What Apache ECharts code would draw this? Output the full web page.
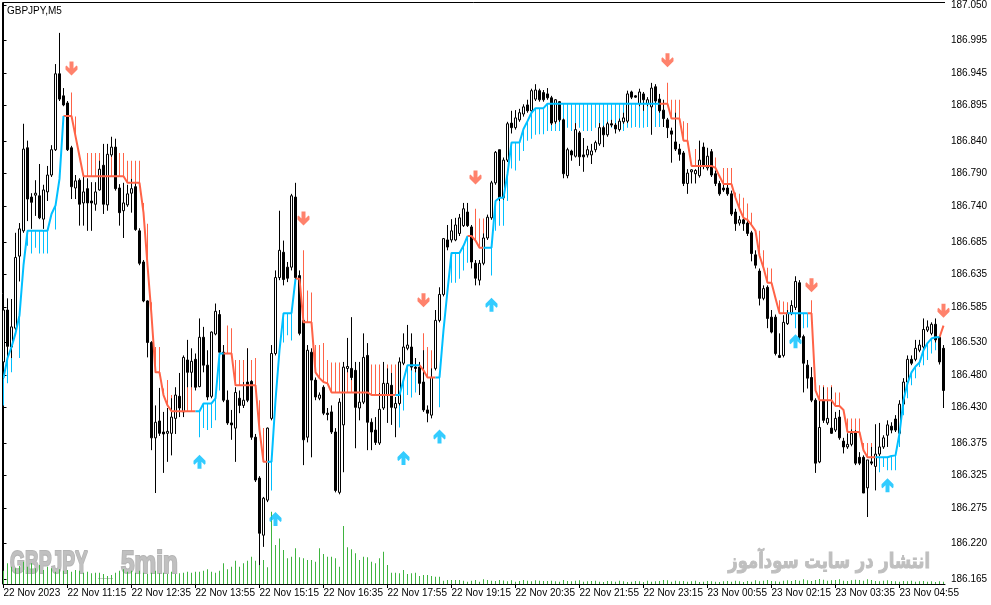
<!DOCTYPE html>
<html>
<head>
<meta charset="utf-8">
<script src="https://cdn.jsdelivr.net/npm/echarts@6/dist/echarts.min.js"></script>
<style>
html,body{margin:0;padding:0;background:#fff;}
#chart{width:991px;height:605px;}
</style>
</head>
<body>
<div id="chart"></div>
<script>
// ---- DATA ----
const tickBars = [0,16,32,48,64,80,96,112,128,144,160,176,192,208,224];
const tickLabels = ['22 Nov 2023','22 Nov 11:15','22 Nov 12:35','22 Nov 13:55','22 Nov 15:15','22 Nov 16:35','22 Nov 17:55','22 Nov 19:15','22 Nov 20:35','22 Nov 21:55','22 Nov 23:15','23 Nov 00:55','23 Nov 02:15','23 Nov 03:35','23 Nov 04:55'];
const priceTicks = [187.050,186.995,186.945,186.895,186.840,186.790,186.740,186.685,186.635,186.585,186.530,186.480,186.430,186.375,186.325,186.275,186.220,186.165];

// candles: [open, close, low, high]
const candles = [
[186.500,186.580,186.495,186.614],[186.580,186.524,186.506,186.598],[186.523,186.554,186.506,186.597],[186.552,186.661,186.549,186.699],[186.663,186.705,186.624,186.714],
[186.702,186.828,186.699,186.867],[186.830,186.751,186.717,186.841],[186.754,186.746,186.705,186.760],[186.757,186.760,186.725,186.780],[186.756,186.722,186.720,186.805],
[186.720,186.765,186.705,186.773],[186.762,186.788,186.748,186.802],[186.788,186.827,186.785,186.834],[186.827,186.944,186.825,186.959],[186.944,186.905,186.902,187.007],
[186.910,186.896,186.894,186.922],[186.899,186.827,186.825,186.902],[186.830,186.770,186.751,186.833],[186.768,186.779,186.751,186.788],[186.780,186.743,186.710,186.783],
[186.745,186.762,186.710,186.786],[186.767,186.745,186.702,186.783],[186.748,186.745,186.702,186.777],[186.743,186.762,186.733,186.777],[186.765,186.797,186.764,186.810],
[186.803,186.743,186.728,186.836],[186.742,186.820,186.733,186.836],[186.819,186.831,186.816,186.847],[186.831,186.767,186.764,186.844],[186.768,186.730,186.710,186.774],
[186.733,186.745,186.691,186.776],[186.742,186.759,186.739,186.773],[186.760,186.767,186.730,186.782],[186.770,186.704,186.702,186.776],[186.702,186.652,186.649,186.706],
[186.654,186.594,186.592,186.657],[186.594,186.530,186.507,186.595],[186.530,186.383,186.364,186.532],[186.383,186.407,186.298,186.433],[186.409,186.390,186.386,186.460],
[186.392,186.389,186.329,186.423],[186.390,186.393,186.346,186.429],[186.390,186.415,186.356,186.444],[186.413,186.449,186.389,186.461],[186.447,186.429,186.415,186.483],
[186.423,186.507,186.415,186.510],[186.503,186.484,186.461,186.534],[186.484,186.501,186.461,186.521],[186.504,186.461,186.456,186.513],[186.462,186.538,186.461,186.567],
[186.538,186.495,186.484,186.554],[186.495,186.446,186.441,186.518],[186.447,186.546,186.444,186.547],[186.543,186.578,186.541,186.590],[186.573,186.515,186.513,186.580],
[186.515,186.441,186.438,186.526],[186.441,186.406,186.403,186.456],[186.406,186.403,186.380,186.426],[186.398,186.453,186.346,186.461],[186.444,186.433,186.421,186.456],
[186.433,186.441,186.429,186.469],[186.469,186.441,186.438,186.521],[186.470,186.384,186.380,186.472],[186.384,186.318,186.315,186.389],[186.321,186.236,186.187,186.324],
[186.233,186.290,186.215,186.292],[186.287,186.398,186.284,186.399],[186.413,186.513,186.410,186.526],[186.513,186.630,186.510,186.641],[186.630,186.672,186.626,186.733],
[186.669,186.627,186.618,186.687],[186.646,186.629,186.623,186.654],[186.646,186.756,186.641,186.759],[186.754,186.630,186.626,186.776],[186.633,186.544,186.541,186.641],
[186.564,186.380,186.341,186.567],[186.384,186.518,186.376,186.526],[186.515,186.472,186.353,186.521],[186.472,186.446,186.441,186.476],[186.444,186.449,186.441,186.453],
[186.461,186.421,186.418,186.464],[186.421,186.419,186.410,186.429],[186.423,186.392,186.389,186.433],[186.392,186.302,186.299,186.398],[186.299,186.438,186.296,186.444],
[186.403,186.492,186.330,186.500],[186.490,186.493,186.484,186.537],[186.490,186.476,186.472,186.569],[186.487,186.430,186.367,186.500],[186.429,186.438,186.410,186.500],
[186.438,186.507,186.435,186.544],[186.510,186.407,186.364,186.529],[186.407,186.392,186.364,186.413],[186.395,186.376,186.372,186.415],[186.375,186.427,186.372,186.452],
[186.429,186.467,186.426,186.500],[186.449,186.467,186.406,186.490],[186.464,186.430,186.403,186.483],[186.429,186.436,186.384,186.446],[186.436,186.500,186.433,186.507],
[186.498,186.523,186.495,186.544],[186.521,186.526,186.518,186.557],[186.523,186.492,186.487,186.544],[186.492,186.490,186.484,186.506],[186.492,186.467,186.449,186.500],
[186.469,186.426,186.423,186.518],[186.426,186.421,186.407,186.433],[186.418,186.476,186.413,186.490],[186.490,186.564,186.487,186.580],[186.564,186.604,186.561,186.615],
[186.604,186.690,186.601,186.691],[186.688,186.677,186.672,186.711],[186.688,186.702,186.684,186.720],[186.688,186.711,186.686,186.722],[186.698,186.722,186.694,186.728],
[186.710,186.736,186.708,186.745],[186.731,186.710,186.708,186.745],[186.708,186.654,186.644,186.711],[186.652,186.629,186.618,186.657],[186.626,186.652,186.618,186.657],
[186.652,186.691,186.649,186.698],[186.691,186.723,186.688,186.727],[186.722,186.776,186.719,186.779],[186.776,186.823,186.773,186.825],[186.827,186.753,186.748,186.827],
[186.753,186.811,186.750,186.815],[186.811,186.867,186.808,186.870],[186.868,186.861,186.852,186.887],[186.861,186.876,186.858,186.888],[186.873,186.884,186.870,186.890],
[186.882,186.893,186.878,186.897],[186.896,186.887,186.884,186.904],[186.887,186.918,186.884,186.921],[186.905,186.919,186.902,186.928],[186.918,186.904,186.901,186.921],
[186.915,186.904,186.901,186.919],[186.913,186.907,186.904,186.922],[186.907,186.868,186.865,186.910],[186.870,186.904,186.867,186.905],[186.901,186.873,186.870,186.902],
[186.873,186.790,186.783,186.875],[186.787,186.827,186.783,186.830],[186.825,186.819,186.810,186.827],[186.817,186.858,186.815,186.868],[186.853,186.816,186.802,186.856],
[186.819,186.816,186.793,186.845],[186.819,186.827,186.815,186.833],[186.819,186.825,186.805,186.836],[186.827,186.838,186.823,186.841],[186.836,186.861,186.833,186.868],
[186.861,186.850,186.831,186.864],[186.850,186.867,186.847,186.870],[186.867,186.865,186.862,186.873],[186.865,186.859,186.852,186.868],[186.858,186.871,186.855,186.875],
[186.870,186.876,186.867,186.884],[186.871,186.913,186.868,186.918],[186.916,186.908,186.905,186.918],[186.910,186.908,186.907,186.911],[186.898,186.916,186.894,186.921],
[186.913,186.904,186.887,186.916],[186.898,186.904,186.894,186.908],[186.893,186.922,186.850,186.930],[186.924,186.902,186.899,186.928],[186.905,186.887,186.884,186.913],
[186.888,186.875,186.862,186.904],[186.873,186.861,186.845,186.876],[186.856,186.851,186.807,186.861],[186.839,186.828,186.825,186.884],[186.828,186.820,186.810,186.836],
[186.822,186.775,186.771,186.825],[186.775,186.791,186.759,186.797],[186.793,186.796,186.775,186.797],[186.790,186.795,186.775,186.797],[186.787,186.811,186.784,186.841],
[186.831,186.802,186.797,186.838],[186.799,186.817,186.795,186.830],[186.824,186.788,186.785,186.828],[186.790,186.775,186.771,186.795],[186.775,186.759,186.756,186.779],
[186.768,186.765,186.762,186.774],[186.768,186.759,186.756,186.773],[186.759,186.728,186.725,186.764],[186.731,186.713,186.702,186.736],[186.714,186.719,186.710,186.725],
[186.719,186.713,186.702,186.722],[186.714,186.698,186.694,186.717],[186.699,186.667,186.655,186.702],[186.665,186.649,186.644,186.672],[186.640,186.598,186.587,186.644],
[186.598,186.613,186.595,186.618],[186.615,186.567,186.552,186.618],[186.569,186.546,186.544,186.580],[186.569,186.513,186.510,186.573],[186.510,186.507,186.506,186.544],
[186.510,186.561,186.507,186.572],[186.559,186.575,186.557,186.580],[186.575,186.587,186.572,186.595],[186.584,186.624,186.580,186.632],[186.622,186.538,186.534,186.626],
[186.539,186.498,186.453,186.542],[186.495,186.475,186.459,186.503],[186.476,186.441,186.438,186.492],[186.441,186.344,186.329,186.444],[186.346,186.399,186.344,186.441],
[186.441,186.410,186.406,186.461],[186.406,186.413,186.403,186.441],[186.398,186.390,186.389,186.461],[186.395,186.413,186.392,186.423],[186.415,186.383,186.380,186.426],
[186.378,186.369,186.359,186.383],[186.369,186.373,186.366,186.390],[186.373,186.390,186.370,186.396],[186.392,186.344,186.341,186.395],[186.353,186.344,186.341,186.361],
[186.353,186.298,186.298,186.356],[186.306,186.349,186.261,186.349],[186.346,186.344,186.341,186.369],[186.339,186.358,186.302,186.404],[186.358,186.369,186.355,186.406],
[186.369,186.383,186.366,186.387],[186.387,186.403,186.369,186.410],[186.401,186.395,186.390,186.407],[186.412,186.395,186.392,186.418],[186.390,186.435,186.387,186.441],
[186.435,186.469,186.432,186.475],[186.469,186.504,186.466,186.510],[186.504,186.498,186.495,186.510],[186.504,186.521,186.501,186.534],[186.518,186.526,186.515,186.534],
[186.523,186.550,186.519,186.567],[186.549,186.554,186.546,186.564],[186.544,186.558,186.541,186.561],[186.558,186.534,186.530,186.567],[186.538,186.500,186.496,186.538],
[186.521,186.456,186.429,186.526]
];

// tick volumes
const volumes = [
133,207,173,157,180,223,173,207,157,190, 140,173,157,123,147,133,140,123,140,133,
113,123,107,113,113,100,80,90,113,133, 147,123,133,113,133,113,100,113,133,107,
113,100,123,100,107,113,123,113,123,123, 133,147,123,113,133,207,147,173,233,173,
207,233,273,233,190,240,167,723,390,457, 340,257,273,357,267,257,240,240,223,357,
300,273,273,257,173,580,367,347,307,240, 273,267,223,207,257,323,190,113,113,107,
140,100,107,113,80,90,90,80,73,73,
33,40,40,40,40,33,23,33,40,23, 47,40,33,30,40,35,27,37,23,30, 40,33,27,37,33,30,
30,33,27,23,40,30,27,33,37,23, 27,30,33,23,20,30,27,23,33,27, 20,23,30,27,20,33,23,27,
30,40,37,23,33,27,30,23,27,33, 20,23,30,27,23,20,27,30,23,33, 27,20,30,23,37,27,33,40,30,27, 23,33,37,30,40,33,
47,37,30,40,50,43,33,37,40,47, 33,30,37,43,40,33,47,40,30,27, 33,37,30,27,23,30,27,33,23,27, 30,23,27,20,27,23
];

// trailing-stop line value per bar
const trail = [
186.475,186.506,186.523,186.544,186.572,186.649,186.702,186.702,186.702,186.702,
186.702,186.702,186.728,186.741,186.782,186.879,186.879,186.879,186.848,186.817,
186.786,186.786,186.786,186.786,186.786,186.786,186.786,186.786,186.786,186.786,
186.786,186.776,186.776,186.776,186.776,186.730,186.649,186.572,186.484,186.484,
186.449,186.433,186.424,186.424,186.424,186.424,186.424,186.424,186.424,186.424,
186.436,186.436,186.436,186.444,186.513,186.513,186.513,186.513,186.464,186.464,
186.464,186.464,186.464,186.464,186.395,186.346,186.346,186.346,186.441,186.518,
186.575,186.575,186.575,186.628,186.628,186.561,186.561,186.561,186.484,186.475,
186.469,186.467,186.453,186.453,186.453,186.453,186.453,186.453,186.453,186.453,
186.453,186.453,186.449,186.449,186.449,186.449,186.449,186.449,186.449,186.449,
186.472,186.495,186.495,186.495,186.495,186.487,186.476,186.476,186.476,186.476,
186.549,186.610,186.668,186.668,186.668,186.679,186.694,186.694,186.687,186.676,
186.676,186.676,186.676,186.748,186.753,186.753,186.790,186.838,186.838,186.838,
186.859,186.871,186.884,186.891,186.891,186.891,186.898,186.898,186.898,186.898,
186.898,186.898,186.898,186.898,186.898,186.898,186.898,186.898,186.898,186.898,
186.898,186.898,186.898,186.898,186.898,186.898,186.898,186.898,186.898,186.898,
186.898,186.898,186.898,186.898,186.898,186.898,186.898,186.875,186.875,186.875,
186.841,186.841,186.802,186.802,186.802,186.802,186.802,186.802,186.799,186.786,
186.774,186.774,186.774,186.753,186.736,186.722,186.719,186.711,186.702,186.664,
186.645,186.622,186.622,186.598,186.575,186.575,186.575,186.575,186.575,186.575,
186.575,186.575,186.575,186.456,186.441,186.441,186.441,186.441,186.432,186.432,
186.426,186.392,186.392,186.392,186.392,186.364,186.353,186.353,186.353,186.353,
186.353,186.353,186.355,186.356,186.390,186.441,186.467,186.484,186.493,186.499,
186.518,186.529,186.536,186.538,186.538,186.556
];

// trend runs: u = up (blue), d = down (red)
const trendRuns = [['u',16],['d',33],['u',7],['d',11],['u',7],['d',25],['u',6],['d',4],['u',8],['d',4],['u',44],['d',32],['u',5],['d',17],['u',16],['d',1]];

// end price of the thin indicator stroke at each bar (null = none)
const tips = [
186.433,186.467,186.484,null,186.506,null,186.679,186.667,186.676,186.667,
186.667,186.667,null,186.704,null,null,null,186.915,186.878,null,
null,186.822,186.822,186.822,186.822,186.822,186.822,186.822,186.822,186.822,
186.822,186.810,186.810,186.810,186.810,186.745,186.713,186.592,186.523,186.523,
186.459,186.472,186.449,186.449,186.467,null,186.467,186.464,null,186.384,
186.398,186.395,186.398,186.410,186.456,186.475,186.556,186.552,186.503,186.503,
186.503,186.521,186.503,186.506,186.441,186.398,186.380,186.302,null,null,
186.530,186.541,186.533,null,null,186.672,186.610,186.607,186.526,186.526,
186.529,186.503,186.499,186.499,186.499,186.499,186.499,186.499,186.499,186.499,
186.499,186.499,186.496,186.496,186.496,186.496,186.496,186.496,186.496,186.399,
186.425,186.449,186.445,186.453,186.449,186.544,186.523,186.518,null,186.430,
null,null,186.622,186.622,186.628,186.641,186.653,null,186.736,186.721,
186.721,null,186.633,186.702,186.710,186.710,186.748,186.798,186.795,186.810,
186.825,186.841,186.844,186.850,186.851,186.851,186.856,186.856,186.856,186.856,
186.856,186.861,186.856,186.856,186.861,186.856,186.856,186.856,186.861,186.856,
186.856,186.856,186.861,186.856,186.856,186.856,186.861,186.861,186.862,186.861,
186.861,186.862,186.856,186.862,186.862,null,186.930,186.904,186.904,186.904,
186.871,186.868,null,186.828,186.828,186.828,186.828,186.828,186.815,null,
186.799,186.799,186.799,186.761,186.759,186.753,186.744,186.730,null,186.702,
186.672,186.645,186.644,null,186.595,186.593,186.592,null,186.552,186.552,
186.552,186.553,186.595,null,186.464,186.464,186.461,186.464,186.453,186.453,
null,186.413,186.413,186.413,186.413,186.375,186.375,186.375,186.375,186.330,
186.338,186.333,186.333,186.333,186.369,186.418,186.444,186.464,186.475,186.492,
186.495,186.503,186.513,186.518,null,null
];

const downArrowBars = [17,75,105,118,166,202,235];
const downArrowPrices = [186.952,186.721,186.595,186.784,186.965,186.618,186.579];
const upArrowBars = [49,68,100,109,122,198,221];
const upArrowPrices = [186.346,186.258,186.352,186.385,186.588,186.532,186.310];

// ---- BUILD ----
const RED = '#ff6347', BLUE = '#00bfff', VOL = '#3fb43f';
const trend = [];
trendRuns.forEach(([t, n]) => { for (let k = 0; k < n; k++) trend.push(t); });

const candleData = candles.map((c, i) => [i, c[0], c[1], c[2], c[3]]);
const volData = volumes.map((v, i) => [i, v]);
const upLine = trail.map((v, i) => [i, (trend[i] === 'u' || trend[i + 1] === 'u') ? v : '-']);
const dnLine = trail.map((v, i) => [i, (trend[i] === 'd' || trend[i + 1] === 'd') ? v : '-']);
const histData = [];
const histColor = [];
tips.forEach((t, i) => {
  if (t !== null) { histData.push([i, trail[i], t]); histColor.push(trend[i] === 'u' ? BLUE : RED); }
});

const downArrow = 'path://M4,0 L8,0 L8,7 L11,4 L12,5 L12,8 L6,14 L0,8 L0,5 L1,4 L4,7 Z';
const upArrow = 'path://M4,14 L8,14 L8,7 L11,10 L12,9 L12,6 L6,0 L0,6 L0,9 L1,10 L4,7 Z';

const wmStyle = {fontFamily: 'Liberation Sans', fontWeight: 'bold', fontSize: 32,
  fill: '#c0c0c0', stroke: '#b4b4b4', lineWidth: 2.2, textVerticalAlign: 'middle',
  shadowColor: '#9c9c9c', shadowOffsetX: 1, shadowOffsetY: 1, shadowBlur: 0};

const chart = echarts.init(document.getElementById('chart'), null, {renderer: 'canvas'});
chart.setOption({
  animation: false,
  backgroundColor: '#fff',
  grid: {left: 3, top: 2, width: 942, height: 582, show: false},
  xAxis: {
    type: 'value', min: -0.125, max: 235.375,
    axisLine: {show: true, lineStyle: {color: '#000', width: 1}},
    axisTick: {show: true, customValues: tickBars, length: 4, lineStyle: {color: '#000'}},
    axisLabel: {show: true, customValues: tickBars, align: 'left', margin: 4,
      fontFamily: 'Liberation Sans', fontSize: 10, color: '#000',
      formatter: v => tickLabels[tickBars.indexOf(Math.round(v))] || ''},
    splitLine: {show: false}
  },
  yAxis: [{
    type: 'value', position: 'right', min: 186.1578, max: 187.0529, scale: true,
    axisLine: {show: true, lineStyle: {color: '#000', width: 1}},
    axisTick: {show: true, customValues: priceTicks, length: 3, lineStyle: {color: '#000'}},
    axisLabel: {show: true, customValues: priceTicks, margin: 6,
      fontFamily: 'Liberation Sans', fontSize: 10, color: '#000',
      formatter: v => v.toFixed(3)},
    splitLine: {show: false}
  }, {
    type: 'value', min: 0, max: 5820, show: false, splitLine: {show: false}
  }],
  graphic: [
    {type: 'text', x: 10, y: 564, scaleX: 0.6, z: 0, silent: true,
      style: Object.assign({text: 'GBPJPY'}, wmStyle)},
    {type: 'text', x: 121, y: 564, scaleX: 0.76, z: 0, silent: true,
      style: Object.assign({text: '5min'}, wmStyle)},
    {type: 'rect', z: 0, silent: true, shape: {x: 98, y: 578, width: 15, height: 1}, style: {fill: '#c8c8c8'}},
    {type: 'text', x: 930, y: 563, scaleX: 0.78, z: 0, silent: true,
      style: {text: 'انتشار در سایت سودآموز', fontFamily: 'DejaVu Sans', fontWeight: 'bold', fontSize: 21,
        fill: '#bfbfbf', stroke: '#bdbdbd', lineWidth: 1, textAlign: 'right', textVerticalAlign: 'middle'}},
    {type: 'text', x: 7, y: 11, z: 10, silent: true,
      style: {text: 'GBPJPY,M5', fontFamily: 'Liberation Sans', fontSize: 10, fill: '#000', textVerticalAlign: 'middle'}},
    {type: 'polyline', z: 10, silent: true, shape: {points: [[2.5, 584], [2.5, 2.5], [945, 2.5]]}, style: {stroke: '#000', lineWidth: 1, fill: null}}
  ],
  series: [
    {type: 'bar', name: 'volume', xAxisIndex: 0, yAxisIndex: 1, data: volData, barWidth: 1,
      itemStyle: {color: VOL}, z: 1, silent: true},
    {type: 'custom', name: 'hist', xAxisIndex: 0, yAxisIndex: 0, data: histData, z: 3, silent: true,
      encode: {x: 0, y: [1, 2]},
      renderItem: (params, api) => {
        const x = api.value(0);
        const a = api.coord([x, api.value(1)]);
        const b = api.coord([x, api.value(2)]);
        const top = Math.min(a[1], b[1]);
        return {type: 'rect',
          shape: {x: Math.round(a[0] - 0.5), y: top, width: 1, height: Math.abs(b[1] - a[1])},
          style: {fill: histColor[params.dataIndex], stroke: null}};
      }},
    {type: 'candlestick', name: 'price', data: candleData, encode: {x: 0, y: [1, 2, 3, 4]},
      barWidth: 2, z: 4, silent: true,
      itemStyle: {color: '#fff', color0: '#000', borderColor: '#000', borderColor0: '#000', borderColorDoji: '#000', borderWidth: 1}},
    {type: 'line', name: 'down', data: dnLine, showSymbol: false, connectNulls: false, z: 5, silent: true,
      lineStyle: {color: RED, width: 2}},
    {type: 'line', name: 'up', data: upLine, showSymbol: false, connectNulls: false, z: 5, silent: true,
      lineStyle: {color: BLUE, width: 2}},
    {type: 'scatter', name: 'sell', data: downArrowBars.map((b, k) => [b, downArrowPrices[k]]),
      symbol: downArrow, symbolSize: [12, 14], itemStyle: {color: RED}, z: 6, silent: true, clip: false},
    {type: 'scatter', name: 'buy', data: upArrowBars.map((b, k) => [b, upArrowPrices[k]]),
      symbol: upArrow, symbolSize: [12, 14], itemStyle: {color: BLUE}, z: 6, silent: true, clip: false}
  ]
});
</script>
</body>
</html>
